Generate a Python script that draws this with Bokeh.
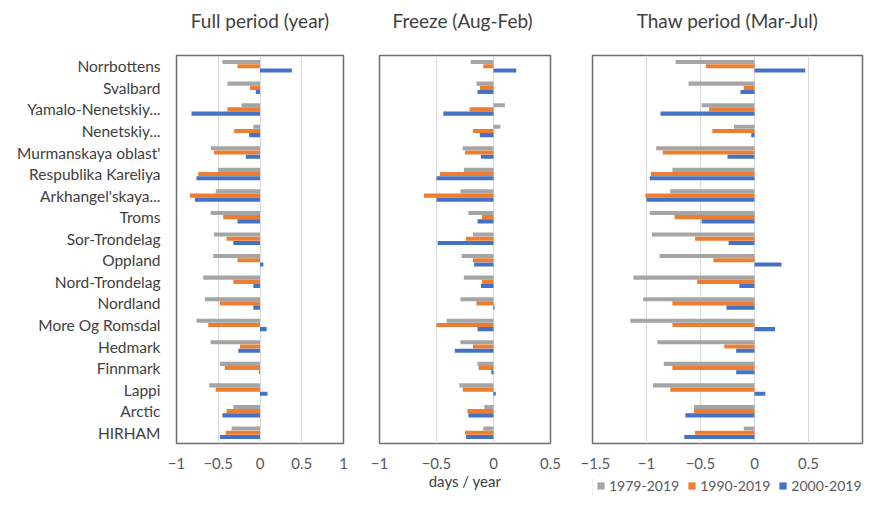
from bokeh.plotting import figure
from bokeh.models import (FactorRange, Range1d, FixedTicker, Legend, LegendItem,
                          ColumnDataSource, Title)
from bokeh.transform import dodge
from bokeh.layouts import row, column
from bokeh.embed import file_html
from bokeh.resources import INLINE

cats = ["Norrbottens", "Svalbard", "Yamalo-Nenetskiy...", "Nenetskiy...",
        "Murmanskaya oblast'", "Respublika Kareliya", "Arkhangel'skaya...",
        "Troms", "Sor-Trondelag", "Oppland", "Nord-Trondelag", "Nordland",
        "More Og Romsdal", "Hedmark", "Finnmark", "Lappi", "Arctic", "HIRHAM"]

series = ["1979-2019", "1990-2019", "2000-2019"]
colors = ["#A5A5A5", "#ED7D31", "#4472C4"]

full_1979 = [-0.45, -0.39, -0.22, -0.08, -0.59, -0.50, -0.53, -0.59, -0.55, -0.56,
             -0.68, -0.66, -0.76, -0.59, -0.48, -0.61, -0.32, -0.34]
full_1990 = [-0.27, -0.12, -0.39, -0.31, -0.55, -0.74, -0.84, -0.44, -0.40, -0.27,
             -0.32, -0.48, -0.62, -0.24, -0.42, -0.53, -0.40, -0.41]
full_2000 = [0.38, -0.05, -0.82, -0.13, -0.17, -0.76, -0.78, -0.27, -0.32, 0.04,
             -0.08, -0.08, 0.08, -0.26, -0.01, 0.09, -0.45, -0.48]

freeze_1979 = [-0.20, -0.15, 0.10, 0.06, -0.27, -0.26, -0.29, -0.22, -0.18, -0.28,
               -0.26, -0.29, -0.41, -0.29, -0.14, -0.30, -0.08, -0.09]
freeze_1990 = [-0.09, -0.12, -0.21, -0.18, -0.25, -0.47, -0.61, -0.10, -0.24, -0.18,
               -0.10, -0.15, -0.50, -0.18, -0.13, -0.27, -0.23, -0.25]
freeze_2000 = [0.20, -0.14, -0.44, -0.12, -0.11, -0.50, -0.50, -0.14, -0.49, -0.17,
               -0.11, 0.01, -0.14, -0.34, -0.02, 0.02, -0.22, -0.24]

thaw_1979 = [-0.73, -0.61, -0.49, -0.19, -0.91, -0.76, -0.78, -0.97, -0.95, -0.88,
             -1.12, -1.03, -1.15, -0.90, -0.84, -0.94, -0.56, -0.10]
thaw_1990 = [-0.45, -0.10, -0.42, -0.39, -0.85, -0.96, -1.01, -0.74, -0.55, -0.38,
             -0.53, -0.76, -0.76, -0.28, -0.76, -0.78, -0.56, -0.55]
thaw_2000 = [0.47, -0.13, -0.87, -0.03, -0.25, -0.97, -1.00, -0.49, -0.24, 0.25,
             -0.14, -0.26, 0.19, -0.17, -0.17, 0.10, -0.64, -0.65]

titles = ["Full period (year)", "Freeze  (Aug-Feb)", "Thaw period (Mar-Jul)"]
ticks_full = [-1, -0.5, 0, 0.5, 1]
ticks_freeze = [-1, -0.5, 0, 0.5]
ticks_thaw = [-1.5, -1, -0.5, 0, 0.5]
x_label = "days / year"

FONT = "Lato"
H = 495
LEG_H = 17


def make_panel(title, vals, x0, x1, ticks, width, height, mbl, mbr, mbt, mbb, show_y,
               standoff, xlabel=None):
    src = ColumnDataSource(dict(cat=cats, a=vals[0], b=vals[1], c=vals[2]))
    p = figure(width=width, height=height, y_range=FactorRange(factors=cats[::-1]),
               x_range=Range1d(x0, x1), output_backend="svg", toolbar_location=None,
               tools="", min_border_left=mbl, min_border_right=mbr,
               min_border_top=mbt, min_border_bottom=mbb,
               title=title)
    p.title.text_font = FONT
    p.title.text_font_size = "19px"
    p.title.text_font_style = "normal"
    p.title.text_color = "#404040"
    p.title.align = "center"
    # blank spacer between the frame and the title
    p.add_layout(Title(text=" ", text_font_size="7px"), "above")
    rends = []
    for key, off, col in zip(["a", "b", "c"], [0.195, 0.0, -0.195], colors):
        r = p.hbar(y=dodge("cat", off, range=p.y_range), right=key, left=0,
                   height=0.19, source=src, fill_color=col, line_color=None)
        rends.append(r)
    p.outline_line_color = "#6e6e6e"
    p.outline_line_width = 1.5
    p.ygrid.grid_line_color = None
    p.xgrid.ticker = FixedTicker(ticks=ticks)
    p.xgrid.grid_line_color = "#d9d9d9"
    p.xgrid.grid_line_width = 1
    p.xaxis.ticker = FixedTicker(ticks=ticks)
    p.xaxis.axis_line_color = None
    p.xaxis.major_tick_line_color = None
    p.xaxis.minor_tick_line_color = None
    p.xaxis.major_tick_out = 0
    p.xaxis.major_label_standoff = standoff
    p.xaxis.major_label_text_font = FONT
    p.xaxis.major_label_text_font_size = "15px"
    p.xaxis.major_label_text_color = "#595959"
    if xlabel:
        p.xaxis.axis_label = xlabel
        p.xaxis.axis_label_text_font = FONT
        p.xaxis.axis_label_text_font_size = "15px"
        p.xaxis.axis_label_text_font_style = "normal"
        p.xaxis.axis_label_text_color = "#404040"
        p.xaxis.axis_label_standoff = 0
    if show_y:
        p.yaxis.axis_line_color = None
        p.yaxis.major_tick_line_color = None
        p.yaxis.minor_tick_line_color = None
        p.yaxis.major_tick_out = 0
        p.yaxis.major_label_standoff = 16
        p.yaxis.major_label_text_font = FONT
        p.yaxis.major_label_text_font_size = "15.5px"
        p.yaxis.major_label_text_color = "#404040"
    else:
        p.yaxis.visible = False
    p.background_fill_color = "white"
    p.border_fill_color = "white"
    return p, rends


p1, _ = make_panel(titles[0], [full_1979, full_1990, full_2000], -1, 1, ticks_full,
                   360, H, 176, 17, 55, 52, True, 14)
p2, _ = make_panel(titles[1], [freeze_1979, freeze_1990, freeze_2000], -1, 0.5, ticks_freeze,
                   220, H, 19, 30, 55, 52, False, 14, xlabel=x_label)
p3, r3 = make_panel(titles[2], [thaw_1979, thaw_1990, thaw_2000], -1.5, 1.0, ticks_thaw,
                    284, H - LEG_H, 12, 2, 55, 35, False, 14)

# legend strip under the third panel; its renderers reuse the thaw data but lie
# outside the strip's visible x range, so only the legend swatches show
leg_fig = figure(width=284, height=LEG_H, x_range=Range1d(10, 11),
                 y_range=FactorRange(factors=cats[::-1]),
                 x_axis_type=None, y_axis_type=None, output_backend="svg",
                 toolbar_location=None, tools="", min_border=0)
leg_fig.outline_line_color = None
leg_fig.background_fill_color = "white"
leg_fig.border_fill_color = "white"
leg_fig.grid.visible = False
leg_src = ColumnDataSource(dict(cat=cats, a=thaw_1979, b=thaw_1990, c=thaw_2000))
leg_rends = []
for key, col in zip(["a", "b", "c"], colors):
    leg_rends.append(leg_fig.hbar(y="cat", right=key, left=0, height=0.19, source=leg_src,
                                  fill_color=col, line_color=None))

legend = Legend(items=[LegendItem(label=s, renderers=[r]) for s, r in zip(series, leg_rends)],
                orientation="horizontal", location=(4, 1))
legend.label_text_font = FONT
legend.label_text_font_size = "14px"
legend.label_text_color = "#595959"
legend.glyph_width = 9
legend.glyph_height = 9
legend.label_standoff = 4
legend.spacing = 8
legend.padding = 0
legend.margin = 0
legend.label_height = 15
legend.border_line_color = None
legend.background_fill_alpha = 0
leg_fig.add_layout(legend)

layout = row(p1, p2, column(p3, leg_fig))
open("out.html", "w").write(file_html(layout, INLINE))
